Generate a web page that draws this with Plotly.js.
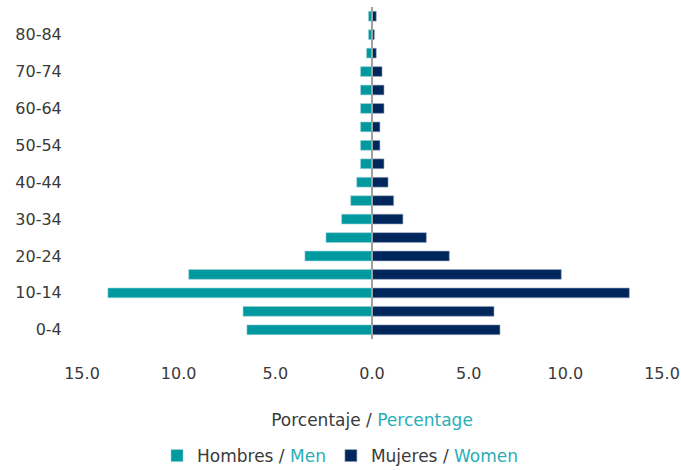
<!DOCTYPE html>
<html>
<head>
<meta charset="utf-8">
<script src="https://cdn.plot.ly/plotly-3.0.1.min.js"></script>
<style>html,body{margin:0;padding:0;background:#fff;}#chart{width:681px;height:470px;}</style>
</head>
<body>
<div id="chart"></div>
<script>
const ageGroups = ["0-4","5-9","10-14","15-19","20-24","25-29","30-34","35-39","40-44","45-49","50-54","55-59","60-64","65-69","70-74","75-79","80-84","85+"];
const menPct   = [6.47,6.67,13.66,9.48,3.47,2.38,1.57,1.10,0.79,0.59,0.59,0.59,0.59,0.59,0.59,0.28,0.18,0.18];
const womenPct = [6.62,6.31,13.31,9.79,4.00,2.81,1.60,1.12,0.83,0.62,0.41,0.41,0.62,0.62,0.52,0.22,0.12,0.22];
const yTickLabels = ["0-4","10-14","20-24","30-34","40-44","50-54","60-64","70-74","80-84"];
const xTickVals = [-15,-10,-5,0,5,10,15];
const xTickText = ["15.0","10.0","5.0","0.0","5.0","10.0","15.0"];

const teal = "#00999f", navy = "#00275c", accent = "#2aaeb6", txt = "#3a3a3a";
const FONT = "DejaVu Sans, sans-serif";

const traces = [
  {type:"bar", orientation:"h", name:"Hombres / <span style='color:"+accent+"'>Men</span>",
   y: ageGroups, x: menPct.map(v => -v),
   marker:{color:teal, line:{color:"rgba(150,210,215,0.6)", width:1}}, hoverinfo:"skip"},
  {type:"bar", orientation:"h", name:"Mujeres / <span style='color:"+accent+"'>Women</span>",
   y: ageGroups, x: womenPct,
   marker:{color:navy, line:{color:"rgba(150,165,190,0.6)", width:1}}, hoverinfo:"skip"}
];

const layout = {
  width:681, height:470,
  margin:{l:82, r:19, t:7, b:131},
  paper_bgcolor:"#fff", plot_bgcolor:"#fff",
  font:{family:FONT, size:16, color:txt},
  barmode:"overlay", bargap:0.47,
  showlegend:true,
  legend:{orientation:"h", x:0.5, xanchor:"center", xref:"container", y:0.068, yanchor:"top", yref:"container",
          font:{family:FONT, size:17, color:txt}, traceorder:"normal", itemwidth:30},
  xaxis:{range:[-15,15], tickvals:xTickVals, ticktext:xTickText, showgrid:false, automargin:false,
         zeroline:true, zerolinecolor:"#a0a0a0", zerolinewidth:2, zerolinelayer:"above traces",
         showline:false, ticks:"outside", ticklen:20, tickcolor:"rgba(0,0,0,0)",
         tickfont:{family:FONT, size:16, color:txt}, fixedrange:true,
         title:{text:"Porcentaje / <span style='color:"+accent+"'>Percentage</span>", standoff:31,
                font:{family:FONT, size:17, color:txt}}},
  yaxis:{type:"category", categoryorder:"array", categoryarray:ageGroups, automargin:false,
         tickvals:yTickLabels, ticktext:yTickLabels, showgrid:false, showline:false, zeroline:false,
         ticks:"outside", ticklen:16, tickcolor:"rgba(0,0,0,0)",
         tickfont:{family:FONT, size:16, color:txt}, fixedrange:true}
};

Plotly.newPlot("chart", traces, layout, {displayModeBar:false, staticPlot:true});
</script>
</body>
</html>
